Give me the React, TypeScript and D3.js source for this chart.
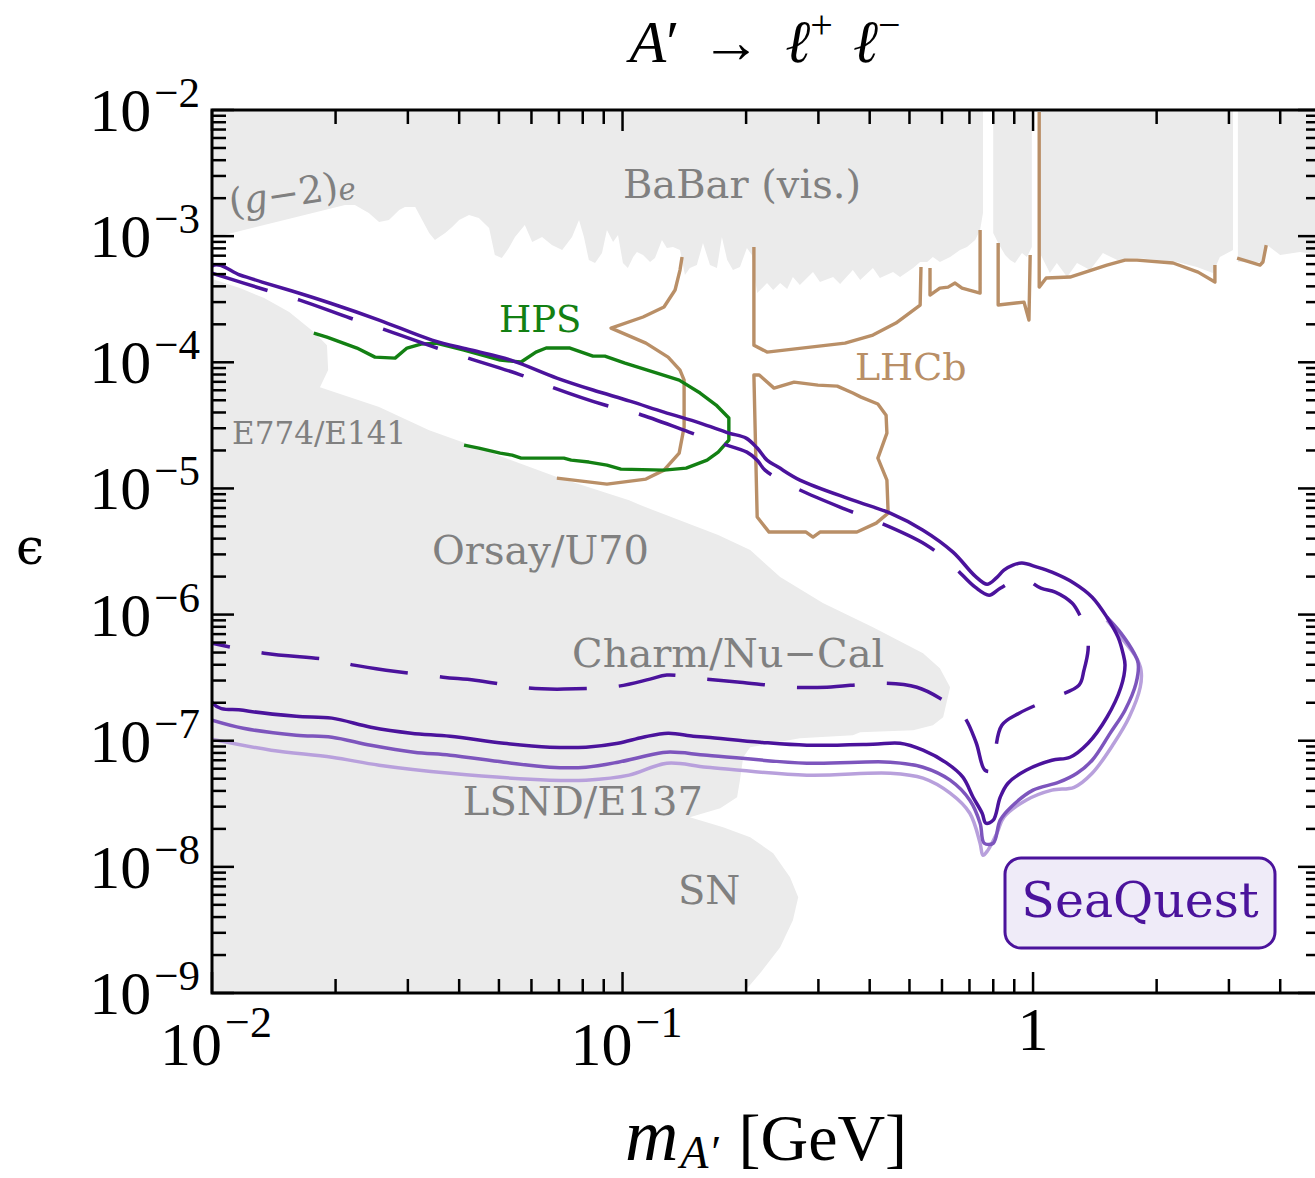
import React, { useEffect } from 'react';
import * as d3 from 'd3';

type P = [number, number];

// Every curve point below is [log10(m_A' / GeV), log10(epsilon)].

// BaBar (visible) + (g-2)e exclusion, lower edge; the upper edge is the plot top.
const babarLowMass: P[] = [
  [-2.0, -3.015], [-1.676, -2.753], [-1.652, -2.753], [-1.618, -2.817], [-1.593, -2.888],
  [-1.569, -2.872], [-1.544, -2.793], [-1.53, -2.769], [-1.505, -2.769], [-1.488, -2.872],
  [-1.471, -2.975], [-1.457, -3.031], [-1.432, -2.975], [-1.415, -2.928], [-1.398, -2.872],
  [-1.374, -2.833], [-1.35, -2.856], [-1.325, -2.936], [-1.311, -3.15], [-1.294, -3.174],
  [-1.277, -3.094], [-1.262, -3.007], [-1.238, -2.912], [-1.22, -3.047], [-1.196, -3.007],
  [-1.172, -3.071], [-1.147, -3.11], [-1.123, -3.007], [-1.106, -2.872], [-1.094, -3.007],
  [-1.082, -3.19], [-1.067, -3.213], [-1.05, -3.134], [-1.038, -2.952], [-1.023, -3.047],
  [-1.011, -2.991], [-0.999, -3.213], [-0.987, -3.253], [-0.974, -3.166], [-0.965, -3.126],
  [-0.95, -3.15], [-0.933, -3.205], [-0.921, -3.174], [-0.904, -3.031], [-0.892, -3.094],
  [-0.877, -3.086], [-0.86, -3.11], [-0.848, -3.308], [-0.836, -3.253], [-0.819, -3.229],
  [-0.804, -3.055], [-0.787, -3.229], [-0.77, -3.253], [-0.758, -3.007], [-0.745, -3.19],
  [-0.731, -3.269], [-0.714, -3.245], [-0.697, -3.094], [-0.685, -3.15], [-0.677, -3.348],
  [-0.672, -3.451], [-0.648, -3.372], [-0.633, -3.427], [-0.616, -3.372], [-0.599, -3.419],
  [-0.585, -3.324], [-0.568, -3.388], [-0.536, -3.285], [-0.519, -3.364], [-0.487, -3.324],
  [-0.47, -3.38], [-0.439, -3.269], [-0.421, -3.348], [-0.39, -3.253], [-0.373, -3.332],
  [-0.341, -3.285], [-0.324, -3.324], [-0.292, -3.253], [-0.275, -3.205], [-0.258, -3.205],
  [-0.244, -3.166], [-0.227, -3.205], [-0.202, -3.166], [-0.178, -3.11], [-0.161, -3.086],
  [-0.141, -3.031], [-0.129, -2.952], [-0.122, -2.817],
];
const babarOmega: P[] = [
  [-0.097, -2.975], [-0.085, -3.055], [-0.068, -3.15], [-0.056, -3.19], [-0.044, -3.213],
  [-0.027, -3.134], [-0.015, -3.166], [-0.003, -3.086],
];
const babarMidMass: P[] = [
  [0.019, -3.15], [0.041, -3.293], [0.058, -3.213], [0.083, -3.324], [0.107, -3.213],
  [0.139, -3.269], [0.17, -3.134], [0.205, -3.19], [0.253, -3.174], [0.302, -3.19],
  [0.351, -3.205], [0.399, -3.245], [0.438, -3.293], [0.455, -3.166], [0.487, -3.11],
];
const babarHighMass: P[] = [
  [0.499, -3.205], [0.529, -3.205], [0.558, -3.205], [0.57, -3.071], [0.602, -3.15],
  [0.65, -3.126], [0.699, -3.15],
];

// Beam dumps and supernova: E774/E141, Orsay/U70, Charm/Nu-Cal, LSND/E137, SN.
const beamDump: P[] = [
  [-2.0, -3.34], [-1.932, -3.412], [-1.873, -3.491], [-1.812, -3.602], [-1.752, -3.76],
  [-1.72, -3.864], [-1.717, -4.062], [-1.737, -4.197], [-1.593, -4.355], [-1.471, -4.538],
  [-1.369, -4.657], [-1.16, -4.91], [-0.984, -5.093], [-0.957, -5.132], [-0.767, -5.37],
  [-0.689, -5.489], [-0.616, -5.703], [-0.512, -5.909], [-0.39, -6.1], [-0.268, -6.306],
  [-0.227, -6.425], [-0.202, -6.576], [-0.219, -6.814], [-0.244, -6.877], [-0.292, -6.917],
  [-0.421, -6.932], [-0.439, -6.956], [-0.568, -6.98], [-0.689, -7.051], [-0.706, -7.131],
  [-0.714, -7.313], [-0.721, -7.448], [-0.762, -7.535], [-0.836, -7.606], [-0.755, -7.686],
  [-0.689, -7.765], [-0.633, -7.892], [-0.592, -8.082], [-0.572, -8.241], [-0.585, -8.423],
  [-0.616, -8.637], [-0.665, -8.844], [-0.706, -9.0], [-2.0, -9.0],
];

// HPS projection
const hps: P[] = [
  [-1.752, -3.768], [-1.72, -3.8], [-1.647, -3.887], [-1.603, -3.959], [-1.554, -3.967],
  [-1.525, -3.887], [-1.491, -3.856], [-1.454, -3.848], [-1.386, -3.903], [-1.298, -3.983],
  [-1.247, -3.998], [-1.211, -3.919], [-1.186, -3.887], [-1.128, -3.887], [-1.072, -3.951],
  [-1.043, -3.951], [-0.994, -4.006], [-0.916, -4.086], [-0.862, -4.141], [-0.811, -4.244],
  [-0.772, -4.339], [-0.741, -4.442], [-0.741, -4.617], [-0.767, -4.712], [-0.794, -4.776],
  [-0.845, -4.839], [-0.899, -4.855], [-1.004, -4.847], [-1.038, -4.815], [-1.082, -4.791],
  [-1.125, -4.776], [-1.143, -4.76], [-1.247, -4.76], [-1.269, -4.736], [-1.298, -4.72],
  [-1.35, -4.68], [-1.386, -4.657],
];

// LHCb projections (several pieces)
const lhcbA: P[] = [
  [-0.855, -3.166], [-0.86, -3.269], [-0.872, -3.427], [-0.899, -3.562], [-0.95, -3.641],
  [-1.028, -3.729], [-0.943, -3.848], [-0.889, -3.959], [-0.86, -4.062], [-0.85, -4.141],
  [-0.85, -4.514], [-0.862, -4.72], [-0.899, -4.855], [-0.943, -4.926], [-1.038, -4.966],
  [-1.16, -4.918],
];
const lhcbB: P[] = [
  [-0.68, -3.086], [-0.68, -3.864], [-0.648, -3.919], [-0.458, -3.848], [-0.39, -3.784],
  [-0.334, -3.689], [-0.275, -3.546], [-0.273, -3.245],
];
const lhcbC: P[] = [
  [-0.251, -3.253], [-0.251, -3.467], [-0.227, -3.412], [-0.207, -3.404], [-0.19, -3.372],
  [-0.173, -3.412], [-0.129, -3.451], [-0.129, -2.952],
];
const lhcbD: P[] = [
  [-0.085, -3.055], [-0.085, -3.546], [-0.022, -3.523], [-0.01, -3.665], [-0.007, -3.15],
];
const lhcbE: P[] = [
  [0.015, -2.016], [0.015, -3.404], [0.032, -3.332], [0.09, -3.324], [0.18, -3.229],
  [0.224, -3.19], [0.253, -3.19], [0.341, -3.213], [0.402, -3.285], [0.443, -3.364],
  [0.443, -3.229],
];
const lhcbF: P[] = [
  [0.497, -3.174], [0.553, -3.229], [0.56, -3.205], [0.568, -3.071],
];
const lhcbLoop: P[] = [
  [-0.68, -4.101], [-0.667, -4.101], [-0.631, -4.205], [-0.582, -4.157], [-0.524, -4.181],
  [-0.477, -4.189], [-0.439, -4.244], [-0.419, -4.276], [-0.378, -4.331], [-0.358, -4.419],
  [-0.356, -4.561], [-0.378, -4.76], [-0.368, -4.839], [-0.356, -4.934], [-0.353, -5.196],
  [-0.382, -5.275], [-0.429, -5.346], [-0.519, -5.346], [-0.536, -5.386], [-0.553, -5.346],
  [-0.643, -5.346], [-0.672, -5.227],
];

// SeaQuest reach: main contour (closed)
const seaquest: P[] = [
  [-2.0, -3.237], [-1.932, -3.308], [-1.878, -3.364], [-1.805, -3.435], [-1.713, -3.53],
  [-1.593, -3.665], [-1.464, -3.824], [-1.369, -3.903], [-1.272, -3.983], [-1.16, -4.125],
  [-1.072, -4.22], [-0.982, -4.308], [-0.899, -4.395], [-0.811, -4.482], [-0.741, -4.561],
  [-0.699, -4.601], [-0.672, -4.68], [-0.648, -4.776], [-0.621, -4.831], [-0.568, -4.934],
  [-0.439, -5.093], [-0.348, -5.196], [-0.268, -5.331], [-0.195, -5.505], [-0.141, -5.695],
  [-0.112, -5.759], [-0.09, -5.711], [-0.071, -5.648], [-0.049, -5.608], [-0.027, -5.592],
  [0.01, -5.624], [0.046, -5.664], [0.1, -5.751], [0.144, -5.862], [0.18, -6.021],
  [0.207, -6.179], [0.219, -6.306], [0.224, -6.401], [0.214, -6.576], [0.18, -6.814],
  [0.134, -7.02], [0.09, -7.131], [0.046, -7.155], [-0.017, -7.234], [-0.061, -7.337],
  [-0.08, -7.448], [-0.097, -7.63], [-0.115, -7.654], [-0.124, -7.575], [-0.146, -7.448],
  [-0.171, -7.289], [-0.21, -7.178], [-0.268, -7.075], [-0.324, -7.02], [-0.39, -7.028],
  [-0.551, -7.036], [-0.665, -7.012], [-0.794, -6.972], [-0.828, -6.964], [-0.889, -6.94],
  [-0.95, -6.972], [-1.011, -7.02], [-1.089, -7.051], [-1.177, -7.051], [-1.289, -7.02],
  [-1.42, -6.964], [-1.515, -6.94], [-1.613, -6.893], [-1.708, -6.821], [-1.795, -6.806],
  [-1.924, -6.758], [-2.0, -6.695],
];
// SeaQuest variants: lower edges that split off from the main contour
const seaquestMid: P[] = [
  [-2.0, -6.837], [-1.924, -6.901], [-1.795, -6.956], [-1.708, -6.972], [-1.613, -7.036],
  [-1.508, -7.091], [-1.42, -7.115], [-1.289, -7.17], [-1.177, -7.21], [-1.089, -7.21],
  [-1.011, -7.17], [-0.957, -7.131], [-0.892, -7.091], [-0.794, -7.115], [-0.551, -7.178],
  [-0.348, -7.17], [-0.268, -7.21], [-0.202, -7.313], [-0.154, -7.472], [-0.129, -7.654],
  [-0.119, -7.813], [-0.097, -7.813], [-0.08, -7.63], [-0.054, -7.527], [0.0, -7.392],
  [0.063, -7.329], [0.107, -7.258], [0.144, -7.155], [0.188, -6.94], [0.224, -6.758],
  [0.251, -6.544], [0.256, -6.385], [0.246, -6.306], [0.214, -6.147], [0.18, -6.021],
];
const seaquestLight: P[] = [
  [-2.0, -6.988], [-1.856, -7.075], [-1.708, -7.131], [-1.593, -7.194], [-1.42, -7.258],
  [-1.177, -7.313], [-1.089, -7.313], [-0.984, -7.273], [-0.892, -7.178], [-0.794, -7.21],
  [-0.551, -7.273], [-0.348, -7.258], [-0.268, -7.297], [-0.202, -7.416], [-0.154, -7.575],
  [-0.129, -7.813], [-0.122, -7.908], [-0.11, -7.868], [-0.088, -7.733], [-0.071, -7.606],
  [-0.017, -7.472], [0.046, -7.392], [0.1, -7.369], [0.144, -7.258], [0.197, -7.02],
  [0.234, -6.814], [0.261, -6.576], [0.263, -6.441], [0.251, -6.338], [0.214, -6.179],
  [0.18, -6.044],
];
// SeaQuest dashed contour
const seaquestDashed: P[] = [
  [-2.0, -3.293], [-1.861, -3.435], [-1.786, -3.507], [-1.664, -3.649], [-1.583, -3.737],
  [-1.452, -3.887], [-1.376, -3.967], [-1.247, -4.101], [-1.172, -4.197], [-1.043, -4.339],
  [-0.967, -4.403], [-0.838, -4.553], [-0.762, -4.641], [-0.697, -4.712], [-0.672, -4.776],
  [-0.653, -4.855], [-0.582, -4.99], [-0.458, -5.164], [-0.382, -5.259], [-0.263, -5.442],
  [-0.197, -5.608], [-0.141, -5.783], [-0.107, -5.846], [-0.08, -5.791], [-0.027, -5.711],
  [0.019, -5.791], [0.054, -5.822], [0.095, -5.909], [0.114, -6.005], [0.131, -6.124],
  [0.134, -6.282], [0.124, -6.441], [0.112, -6.56], [0.046, -6.663], [-0.034, -6.782],
  [-0.076, -6.877], [-0.093, -7.115], [-0.097, -7.234], [-0.117, -7.234], [-0.139, -7.012],
  [-0.171, -6.798], [-0.227, -6.663], [-0.283, -6.576], [-0.365, -6.544], [-0.502, -6.576],
  [-0.585, -6.576], [-0.714, -6.536], [-0.794, -6.512], [-0.892, -6.48], [-0.933, -6.512],
  [-1.011, -6.568], [-1.143, -6.591], [-1.228, -6.583], [-1.359, -6.52], [-1.437, -6.496],
  [-1.576, -6.441], [-1.654, -6.401], [-1.708, -6.361], [-1.873, -6.306], [-2.0, -6.227],
];

// Axis tick labels
const xTickLabels = [
  { value: 0.01, base: '10', exp: '−2' },
  { value: 0.1, base: '10', exp: '−1' },
  { value: 1, base: '1', exp: '' },
];
const yTickExponents = [-2, -3, -4, -5, -6, -7, -8, -9];

// Region labels, anchored at their left baseline point (log10 m, log10 eps)
const regionLabels: { text: string; lm: number; le: number; size: number; color: string }[] = [
  { text: 'BaBar (vis.)', lm: -0.999, le: -2.698, size: 40, color: '#808080' },
  { text: 'E774/E141', lm: -1.951, le: -4.649, size: 31, color: '#808080' },
  { text: 'Orsay/U70', lm: -1.464, le: -5.6, size: 40, color: '#808080' },
  { text: 'Charm/Nu−Cal', lm: -1.123, le: -6.417, size: 40, color: '#808080' },
  { text: 'LSND/E137', lm: -1.389, le: -7.591, size: 40, color: '#808080' },
  { text: 'SN', lm: -0.865, le: -8.297, size: 40, color: '#808080' },
  { text: 'HPS', lm: -1.301, le: -3.76, size: 37, color: '#138013' },
  { text: 'LHCb', lm: -0.434, le: -4.141, size: 38, color: '#b98f67' },
];

const W = 1315;
const H = 1178;
const M = { left: 212, top: 110, right: 1320, bottom: 993 };

const GRAY = '#ebebeb';
const TAN = '#b98f67';
const GREEN = '#138013';
const PURPLE = '#4b139c';
const PURPLE_MID = '#7d55bd';
const PURPLE_LIGHT = '#b8a0dc';
const SERIF = "'Liberation Serif', 'Times New Roman', serif";
const LABEL = "'DejaVu Serif', serif";

export default function App() {
  useEffect(() => {
    document.body.style.margin = '0';
  }, []);

  const x = d3.scaleLog().domain([0.01, 5]).range([M.left, M.right]);
  const y = d3.scaleLog().domain([1e-9, 1e-2]).range([M.bottom, M.top]);
  const X = (p: P) => x(10 ** p[0]);
  const Y = (p: P) => y(10 ** p[1]);

  const lin = d3.line<P>().x(X).y(Y);
  const smooth = d3.line<P>().x(X).y(Y).curve(d3.curveCatmullRom.alpha(0.5));
  const smoothClosed = d3.line<P>().x(X).y(Y).curve(d3.curveCatmullRomClosed.alpha(0.5));

  const topClosed = (pts: P[]): string => {
    const ext: P[] = [...pts, [pts[pts.length - 1][0], -2], [pts[0][0], -2]];
    return lin(ext) + 'Z';
  };

  const xTicks = x.ticks().filter((v) => v < 5);
  const yTicks = y.ticks();
  const isMajor = (v: number) => Math.abs(Math.log10(v) - Math.round(Math.log10(v))) < 1e-6;

  return (
    <div style={{ position: 'absolute', left: 0, top: 0 }}>
      <svg width={W} height={H} style={{ display: 'block', background: '#fff' }}>
        <defs>
          <clipPath id="plotArea">
            <rect x={M.left} y={M.top} width={M.right - M.left} height={M.bottom - M.top} />
          </clipPath>
        </defs>

        <g clipPath="url(#plotArea)">
          {/* existing limits */}
          <path d={topClosed(babarLowMass)} fill={GRAY} />
          <path d={topClosed(babarOmega)} fill={GRAY} />
          <path d={topClosed(babarMidMass)} fill={GRAY} />
          <path d={topClosed(babarHighMass)} fill={GRAY} />
          <path d={lin(beamDump) + 'Z'} fill={GRAY} />

          {/* projections */}
          {[lhcbA, lhcbB, lhcbC, lhcbD, lhcbE, lhcbF].map((c, i) => (
            <path key={i} d={lin(c) ?? ''} fill="none" stroke={TAN} strokeWidth={3.4} strokeLinejoin="round" />
          ))}
          <path d={lin(lhcbLoop) + 'Z'} fill="none" stroke={TAN} strokeWidth={3.4} strokeLinejoin="round" />
          <path d={lin(hps) ?? ''} fill="none" stroke={GREEN} strokeWidth={3.4} strokeLinejoin="round" />

          {/* SeaQuest */}
          <path d={smooth(seaquestLight) ?? ''} fill="none" stroke={PURPLE_LIGHT} strokeWidth={3.5} />
          <path d={smooth(seaquestMid) ?? ''} fill="none" stroke={PURPLE_MID} strokeWidth={3.5} />
          <path d={smoothClosed(seaquest) ?? ''} fill="none" stroke={PURPLE} strokeWidth={3.5} />
          <path d={smooth(seaquestDashed) ?? ''} fill="none" stroke={PURPLE} strokeWidth={3.5} strokeDasharray="58,32" />

          {/* region labels */}
          {regionLabels.map((l) => (
            <text key={l.text} x={x(10 ** l.lm)} y={y(10 ** l.le)} fontFamily={LABEL} fontSize={l.size} fill={l.color}>
              {l.text}
            </text>
          ))}
          <text
            transform={`translate(${x(10 ** -1.954)},${y(10 ** -2.84)}) rotate(-9)`}
            fontFamily={LABEL}
            fontSize={38}
            fill="#808080"
          >
            (<tspan fontStyle="italic">g</tspan>−2)<tspan fontStyle="italic" fontSize={30} dy={2}>e</tspan>
          </text>
        </g>

        {/* SeaQuest legend box */}
        <rect x={1005} y={858} width={270} height={90} rx={16} fill="#efebf8" stroke={PURPLE} strokeWidth={3} />
        <text x={1140} y={917} textAnchor="middle" fontFamily={LABEL} fontSize={49} fill={PURPLE}>
          SeaQuest
        </text>

        {/* frame */}
        <rect x={M.left} y={M.top} width={M.right - M.left} height={M.bottom - M.top} fill="none" stroke="#000" strokeWidth={3} />

        {/* x ticks (bottom and top) */}
        {xTicks.map((v) => {
          const len = isMajor(v) ? 21 : 14;
          const xx = x(v);
          return (
            <g key={`x${v}`} stroke="#000" strokeWidth={2.5}>
              <line x1={xx} x2={xx} y1={M.bottom} y2={M.bottom - len} />
              <line x1={xx} x2={xx} y1={M.top} y2={M.top + len} />
            </g>
          );
        })}
        {/* y ticks (left and right) */}
        {yTicks.map((v) => {
          const len = isMajor(v) ? 22 : 14;
          const yy = y(v);
          return (
            <g key={`y${v}`} stroke="#000" strokeWidth={2.5}>
              <line x1={M.left} x2={M.left + len} y1={yy} y2={yy} />
              <line x1={M.right} x2={M.right - len} y1={yy} y2={yy} />
            </g>
          );
        })}

        {/* y tick labels */}
        {yTickExponents.map((e) => (
          <text key={`yl${e}`} x={200} y={y(10 ** e) + 21} textAnchor="end" fontFamily={SERIF} fontSize={62}>
            10<tspan fontSize={43} dx={3} dy={-24}>{`−${-e}`}</tspan>
          </text>
        ))}

        {/* x tick labels */}
        {xTickLabels.map((t) =>
          t.exp ? (
            <text key={t.value} x={x(t.value) + 4} y={1065} textAnchor="middle" fontFamily={SERIF} fontSize={62}>
              {t.base}
              <tspan fontSize={44} dx={3} dy={-28}>{t.exp}</tspan>
            </text>
          ) : (
            <text key={t.value} x={x(t.value)} y={1050} textAnchor="middle" fontFamily={SERIF} fontSize={62}>
              {t.base}
            </text>
          )
        )}

        {/* axis titles */}
        <text x={766} y={1160} textAnchor="middle" fontFamily={SERIF} fontSize={66}>
          <tspan fontStyle="italic" fontSize={74}>m</tspan>
          <tspan fontStyle="italic" fontSize={46} dx={2} dy={8}>A′</tspan>
          <tspan dx={20} dy={-8}>[GeV]</tspan>
        </text>
        <text x={30} y={564} textAnchor="middle" fontFamily={LABEL} fontSize={50}>
          ϵ
        </text>

        {/* title */}
        <text x={765} y={62} textAnchor="middle" fontFamily={SERIF} fontSize={60}>
          <tspan fontStyle="italic">A</tspan>
          <tspan>′</tspan>
          <tspan dx={22}>→</tspan>
          <tspan dx={24} fontStyle="italic">ℓ</tspan>
          <tspan fontSize={40} dy={-24}>+</tspan>
          <tspan dx={20} dy={24} fontStyle="italic">ℓ</tspan>
          <tspan fontSize={40} dy={-24}>−</tspan>
        </text>
      </svg>
    </div>
  );
}
